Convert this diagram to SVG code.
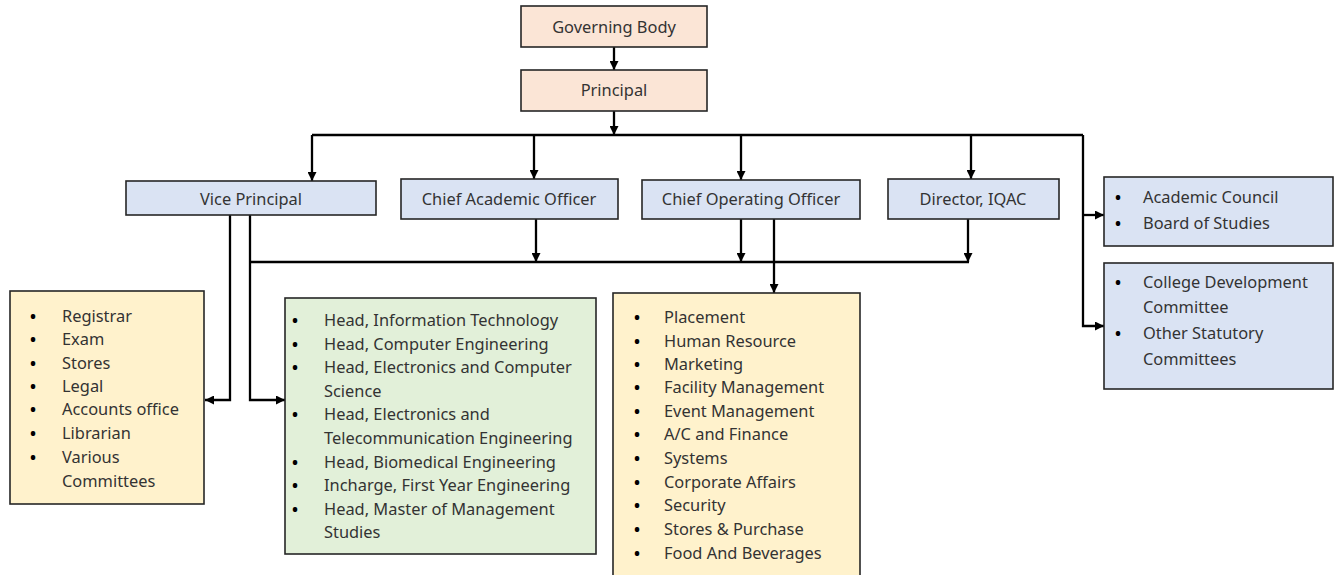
<svg xmlns="http://www.w3.org/2000/svg" width="1342" height="575" viewBox="0 0 1342 575">
<defs>
<marker id="arr" markerUnits="userSpaceOnUse" markerWidth="9" markerHeight="9" refX="9" refY="4.5" orient="auto">
<path d="M0,0 L9,4.5 L0,9 z" fill="#000"/>
</marker>
<style>
.box{stroke:#262626;stroke-width:1.6}
.peach{fill:#fbe5d6}
.blue{fill:#dae3f3}
.green{fill:#e2f0d9}
.yellow{fill:#fff2cc}
text{font-family:"Noto Sans","Open Sans",sans-serif;font-size:16.4px;fill:#333}
.c{text-anchor:middle}
.b{text-anchor:middle;font-size:16px;font-weight:bold;fill:#000}
.ln{fill:none;stroke:#000;stroke-width:2.3}
.la{fill:none;stroke:#000;stroke-width:2.3;marker-end:url(#arr)}
</style>
</defs>
<rect width="1342" height="575" fill="#fff"/>

<g id="connectors">
<path class="la" d="M614,47 V70"/>
<path class="la" d="M614,111 V135"/>
<path class="ln" d="M312,135 H1083"/>
<path class="la" d="M312,135 V181"/>
<path class="la" d="M534,135 V179"/>
<path class="la" d="M741,135 V180"/>
<path class="la" d="M971,135 V179"/>
<path class="la" d="M1083,135 V326 H1104"/>
<path class="la" d="M1083,215 H1104"/>
<path class="la" d="M536,219 V262"/>
<path class="la" d="M741,219 V262"/>
<path class="la" d="M774,219 V293"/>
<path class="la" d="M968,219 V262"/>
<path class="ln" d="M250,262 H969"/>
<path class="la" d="M230,215 V400 H205"/>
<path class="la" d="M250,215 V400 H285"/>
</g>

<g id="governing-body">
<rect class="box peach" x="521" y="6" width="186" height="41"/>
<text class="c" x="614" y="33">Governing Body</text>
</g>
<g id="principal">
<rect class="box peach" x="521" y="70" width="186" height="41"/>
<text class="c" x="614" y="96">Principal</text>
</g>

<g id="vice-principal">
<rect class="box blue" x="126" y="181" width="250" height="34"/>
<text class="c" x="251" y="205">Vice Principal</text>
</g>
<g id="chief-academic-officer">
<rect class="box blue" x="401" y="179" width="217" height="40"/>
<text class="c" x="509" y="205">Chief Academic Officer</text>
</g>
<g id="chief-operating-officer">
<rect class="box blue" x="642" y="180" width="218" height="39"/>
<text class="c" x="751" y="205">Chief Operating Officer</text>
</g>
<g id="director-iqac">
<rect class="box blue" x="888" y="179" width="171" height="40"/>
<text class="c" x="973" y="205">Director, IQAC</text>
</g>

<g id="academic-council">
<rect class="box blue" x="1104" y="177" width="229" height="69"/>
<text class="b" x="1118" y="203">•</text><text x="1143" y="203">Academic Council</text>
<text class="b" x="1118" y="229">•</text><text x="1143" y="229">Board of Studies</text>
</g>
<g id="committees">
<rect class="box blue" x="1104" y="263" width="229" height="126"/>
<text class="b" x="1118" y="288">•</text><text x="1143" y="288">College Development</text>
<text x="1143" y="313">Committee</text>
<text class="b" x="1118" y="339">•</text><text x="1143" y="339">Other Statutory</text>
<text x="1143" y="365">Committees</text>
</g>

<g id="admin-list">
<rect class="box yellow" x="10" y="291" width="194" height="213"/>
<text class="b" x="33" y="322">•</text><text x="62" y="322">Registrar</text>
<text class="b" x="33" y="345">•</text><text x="62" y="345">Exam</text>
<text class="b" x="33" y="369">•</text><text x="62" y="369">Stores</text>
<text class="b" x="33" y="392">•</text><text x="62" y="392">Legal</text>
<text class="b" x="33" y="415">•</text><text x="62" y="415">Accounts office</text>
<text class="b" x="33" y="439">•</text><text x="62" y="439">Librarian</text>
<text class="b" x="33" y="463">•</text><text x="62" y="463">Various</text>
<text x="62" y="487">Committees</text>
</g>

<g id="department-heads">
<rect class="box green" x="285" y="298" width="311" height="256"/>
<text class="b" x="295" y="326">•</text><text x="324" y="326">Head, Information Technology</text>
<text class="b" x="295" y="350">•</text><text x="324" y="350">Head, Computer Engineering</text>
<text class="b" x="295" y="373">•</text><text x="324" y="373">Head, Electronics and Computer</text>
<text x="324" y="397">Science</text>
<text class="b" x="295" y="420">•</text><text x="324" y="420">Head, Electronics and</text>
<text x="324" y="444">Telecommunication Engineering</text>
<text class="b" x="295" y="468">•</text><text x="324" y="468">Head, Biomedical Engineering</text>
<text class="b" x="295" y="491">•</text><text x="324" y="491">Incharge, First Year Engineering</text>
<text class="b" x="295" y="515">•</text><text x="324" y="515">Head, Master of Management</text>
<text x="324" y="538">Studies</text>
</g>

<g id="operations-list">
<rect class="box yellow" x="613" y="293" width="247" height="283"/>
<text class="b" x="637" y="323">•</text><text x="664" y="323">Placement</text>
<text class="b" x="637" y="347">•</text><text x="664" y="347">Human Resource</text>
<text class="b" x="637" y="370">•</text><text x="664" y="370">Marketing</text>
<text class="b" x="637" y="393">•</text><text x="664" y="393">Facility Management</text>
<text class="b" x="637" y="417">•</text><text x="664" y="417">Event Management</text>
<text class="b" x="637" y="440">•</text><text x="664" y="440">A/C and Finance</text>
<text class="b" x="637" y="464">•</text><text x="664" y="464">Systems</text>
<text class="b" x="637" y="488">•</text><text x="664" y="488">Corporate Affairs</text>
<text class="b" x="637" y="511">•</text><text x="664" y="511">Security</text>
<text class="b" x="637" y="535">•</text><text x="664" y="535">Stores &amp; Purchase</text>
<text class="b" x="637" y="559">•</text><text x="664" y="559">Food And Beverages</text>
</g>
</svg>
